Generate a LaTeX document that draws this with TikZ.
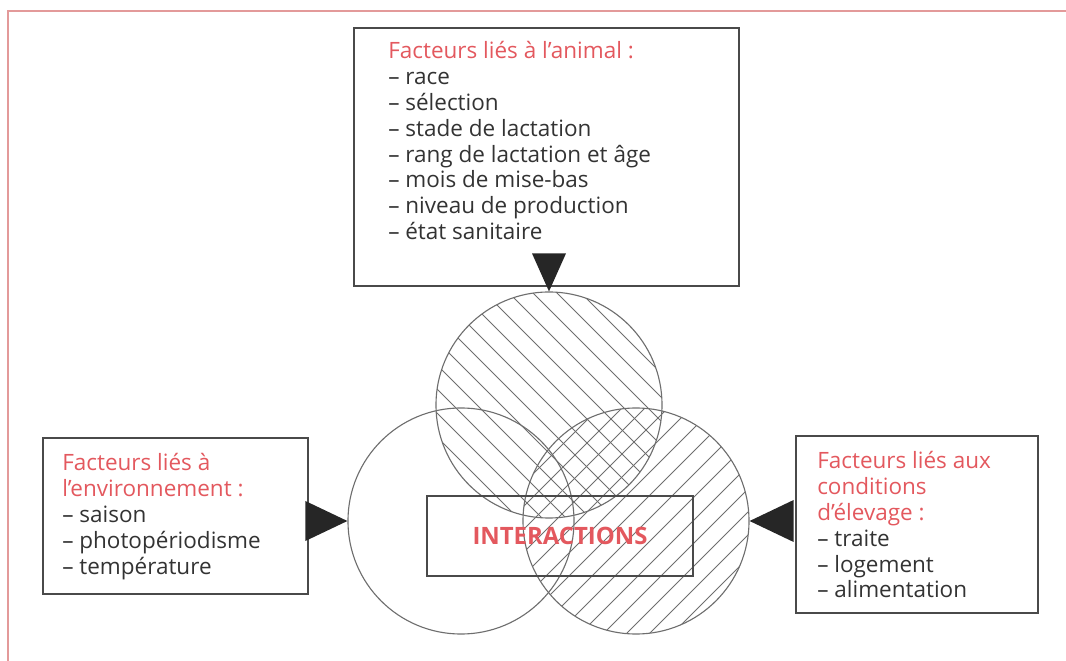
\documentclass[tikz,border=0pt]{standalone}
\usepackage{fontspec}
\setmainfont{Open Sans}
\usetikzlibrary{positioning}
\definecolor{framered}{HTML}{E39A9A}
\definecolor{headred}{HTML}{E3585E}
\definecolor{bodygray}{HTML}{333333}
\definecolor{boxgray}{HTML}{4A4A4A}
\definecolor{ringgray}{HTML}{6E6E6E}

\begin{document}
\begin{tikzpicture}[x=0.025cm, y=-0.025cm,
    box/.style={draw=boxgray, line width=1.4pt, inner sep=0pt, anchor=north west},
    ring/.style={circle, draw=ringgray, line width=0.8pt, inner sep=0pt, minimum size=5.65cm},
    hatch/.style={draw=ringgray, line width=0.6pt},
    txt/.style={anchor=north west, inner sep=0pt, align=left, text=bodygray,
      font=\fontsize{16}{18.4}\selectfont},
    tip/.style={fill=black!85}]
  \useasboundingbox (0,0) rectangle (1066,661);
  % page frame
  \draw[framered, line width=1.5pt] (8,661) -- (8,11) -- (1066,11);

  % the three circles
  \node[ring] (animal) at (549,405) {};
  \node[ring] (env)    at (461,521) {};
  \node[ring] (cond)   at (636,521) {};
  \begin{scope}
    \clip (animal.center) circle[radius=2.825cm];
    \foreach \d in {-288,-264,...,288}
      \draw[hatch] (animal.center) ++(\d-160,-160) -- ++(320,320);
  \end{scope}
  \begin{scope}
    \clip (cond.center) circle[radius=2.825cm];
    \foreach \d in {-288,-265,...,288}
      \draw[hatch] (cond.center) ++(\d-160,160) -- ++(320,-320);
  \end{scope}

  % boxes
  \node[box, minimum width=9.625cm, minimum height=6.45cm] (animalbox) at (353,27) {};
  \node[box, minimum width=6.625cm, minimum height=3.9cm]  (envbox)    at (42,437) {};
  \node[box, minimum width=6.05cm,  minimum height=4.425cm] (condbox)  at (795,435) {};
  \node[box, minimum width=6.65cm,  minimum height=2cm]    (interbox)  at (426,495) {};

  \node[txt] (animaltxt) at (388,41) {\textcolor{headred}{Facteurs liés à l’animal :}\\
    – race\\
    – sélection\\
    – stade de lactation\\
    – rang de lactation et âge\\
    – mois de mise-bas\\
    – niveau de production\\
    – état sanitaire};
  \node[txt] (envtxt) at (62,453) {\textcolor{headred}{Facteurs liés à}\\
    \textcolor{headred}{l’environnement :}\\
    – saison\\
    – photopériodisme\\
    – température};
  \node[txt] (condtxt) at (817,451) {\textcolor{headred}{Facteurs liés aux}\\
    \textcolor{headred}{conditions}\\
    \textcolor{headred}{d’élevage :}\\
    – traite\\
    – logement\\
    – alimentation};
  \node[text=headred, font=\fontsize{17}{20}\selectfont\bfseries] (inter) at (interbox.center) {INTERACTIONS};

  % arrow heads into the circles
  \fill[tip] (animal.north) -- ++(-17,-38) -- ++(34,0) -- cycle;
  \fill[tip] (env.west) -- ++(-42,-20) -- ++(0,40) -- cycle;
  \fill[tip] (cond.east) -- ++(44,-21) -- ++(0,42) -- cycle;
\end{tikzpicture}
\end{document}
